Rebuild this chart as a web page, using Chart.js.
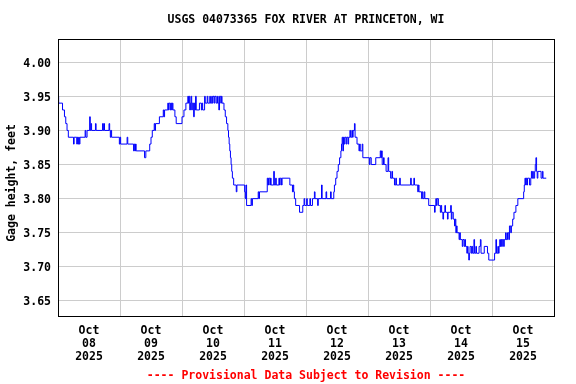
<!DOCTYPE html>
<html>
<head>
<meta charset="utf-8">
<script src="https://cdn.jsdelivr.net/npm/chart.js@4"></script>
<style>
  html, body { margin: 0; padding: 0; background: #fff; }
</style>
</head>
<body>
<canvas id="gage" width="576" height="384"></canvas>
<script>
const titleText = 'USGS 04073365 FOX RIVER AT PRINCETON, WI'
const footText = '---- Provisional Data Subject to Revision ----'
const yTitle = 'Gage height, feet'

// one label per day, drawn at noon
const dayLabels = [
  ['Oct', '08', '2025'], ['Oct', '09', '2025'], ['Oct', '10', '2025'], ['Oct', '11', '2025'],
  ['Oct', '12', '2025'], ['Oct', '13', '2025'], ['Oct', '14', '2025'], ['Oct', '15', '2025']
]
const yTicks = [3.65, 3.70, 3.75, 3.80, 3.85, 3.90, 3.95, 4.00]

// hours since Oct 08 00:00, and the gage height that starts at that hour
const hours = [
  0, 0.25, 1.75, 2.5, 3.0, 3.5, 4.0, 6.0, 6.25, 7.25, 7.5, 7.75, 8.0, 8.25, 8.5,
  10.5, 10.75, 11.25, 12.25, 12.5, 12.75, 13.0, 14.5, 14.75, 17.25, 17.5, 17.75, 18.0,
  19.75, 20.0, 20.25, 20.5, 20.75, 23.75,
  24.0, 24.25, 26.75, 27.0, 29.25, 29.5, 29.75, 30.0, 30.25, 33.5, 34.0, 35.5, 36.0,
  36.5, 37.25, 37.5, 37.75, 39.25, 40.75, 41.0, 41.25, 42.5, 42.75, 43.0, 43.5, 43.75,
  44.0, 44.25, 44.5, 45.25, 45.75,
  48.0, 48.75, 49.5, 50.25, 50.5, 50.75, 51.0, 51.25, 51.5, 51.75, 52.0, 52.5, 52.75,
  53.0, 53.25, 53.5, 54.75, 55.5, 55.75, 56.0, 56.75, 57.0, 57.75, 58.0, 58.75, 59.0,
  59.5, 59.75, 60.0, 60.5, 60.75, 61.25, 61.75, 62.0, 62.25, 62.5, 63.0, 63.25, 63.5,
  64.25, 64.75, 65.25, 65.75, 66.0, 66.25, 66.5, 66.75, 67.0, 67.25, 67.5, 68.0,
  69.0, 69.25,
  72.25, 72.5, 72.75, 73.0, 74.75, 75.0, 75.25, 77.5, 77.75, 78.0, 81.0, 81.25, 81.5,
  82.0, 82.25, 82.5, 83.5, 83.75, 84.25, 84.5, 85.5, 85.75, 86.0, 86.5, 86.75, 89.75,
  90.75, 91.0, 91.25, 91.5, 92.0, 93.5, 94.75, 95.25, 95.5,
  96.25, 96.5, 97.5, 97.75, 98.5, 99.25, 99.5, 100.5, 100.75, 102.0, 102.25, 103.75,
  104.0, 105.5, 105.75, 106.75, 107.0, 107.5, 108.0, 108.5, 109.0, 109.5, 109.75,
  110.0, 110.25, 110.5, 110.75, 111.0, 111.5, 111.75, 112.25, 112.5, 113.0, 113.25,
  113.75, 114.0, 114.25, 114.75, 115.0, 115.75, 116.5, 116.75, 117.0, 117.75, 118.0,
  120.5, 120.75, 121.25, 123.0, 124.75, 125.0, 125.25, 125.5, 126.0, 126.25, 127.0,
  127.75, 128.0, 128.75, 129.25, 129.5, 130.25, 130.75, 131.0, 132.25, 132.5, 136.5,
  136.75, 137.75, 138.0, 139.25, 139.5, 139.75, 140.75, 141.0, 141.25, 141.75, 142.0,
  143.5,
  145.75, 146.0, 146.25, 146.5, 146.75, 147.25, 148.0, 148.25, 148.5, 149.0, 149.25,
  149.75, 150.0, 150.75, 151.0, 152.0, 152.25, 152.5, 153.0, 153.5, 153.75, 154.0,
  154.25, 154.5, 155.25, 155.5, 155.75, 156.5, 156.75, 157.25, 157.5, 157.75, 158.25,
  158.5, 158.75, 159.0, 159.25, 159.5, 160.0, 160.25, 160.5, 161.0, 161.25, 161.75,
  162.0, 163.0, 163.5, 163.75, 165.0, 166.25, 166.75,
  169.0, 169.5, 169.75, 170.25, 170.5, 170.75, 171.0, 171.25, 171.5, 171.75, 172.0,
  172.5, 172.75, 173.25, 173.5, 174.0, 174.5, 174.75, 175.25, 175.5, 176.0, 176.5,
  177.25, 178.0, 180.25, 180.5, 180.75, 181.0, 181.25, 181.5, 181.75, 182.5, 183.0,
  183.25, 183.5, 183.75, 184.0, 184.5, 184.75, 185.0, 185.25, 185.5, 185.75, 187.0,
  187.5, 187.75, 189.0
]
const gage = [
  3.95, 3.94, 3.93, 3.92, 3.91, 3.90, 3.89, 3.88, 3.89, 3.88, 3.89, 3.88, 3.89, 3.88, 3.89,
  3.90, 3.89, 3.90, 3.92, 3.90, 3.91, 3.90, 3.91, 3.90, 3.91, 3.90, 3.91, 3.90,
  3.91, 3.90, 3.89, 3.90, 3.89, 3.88,
  3.89, 3.88, 3.89, 3.88, 3.87, 3.88, 3.87, 3.88, 3.87, 3.86, 3.87, 3.88, 3.89,
  3.90, 3.91, 3.90, 3.91, 3.92, 3.93, 3.92, 3.93, 3.94, 3.93, 3.94, 3.93, 3.94,
  3.93, 3.94, 3.93, 3.92, 3.91,
  3.92, 3.93, 3.94, 3.95, 3.94, 3.95, 3.93, 3.94, 3.95, 3.93, 3.94, 3.92, 3.94,
  3.93, 3.95, 3.93, 3.94, 3.93, 3.94, 3.93, 3.95, 3.94, 3.95, 3.94, 3.95, 3.94,
  3.95, 3.94, 3.95, 3.94, 3.95, 3.94, 3.95, 3.94, 3.93, 3.95, 3.94, 3.95, 3.94,
  3.93, 3.92, 3.91, 3.90, 3.89, 3.88, 3.87, 3.86, 3.85, 3.84, 3.83, 3.82,
  3.81, 3.82,
  3.81, 3.80, 3.82, 3.79, 3.80, 3.79, 3.80, 3.81, 3.80, 3.81, 3.83, 3.82, 3.83,
  3.82, 3.83, 3.82, 3.84, 3.82, 3.83, 3.82, 3.83, 3.82, 3.83, 3.82, 3.83, 3.82,
  3.81, 3.82, 3.81, 3.80, 3.79, 3.78, 3.79, 3.80, 3.79,
  3.80, 3.79, 3.80, 3.79, 3.80, 3.81, 3.80, 3.79, 3.80, 3.82, 3.80, 3.81,
  3.80, 3.81, 3.80, 3.81, 3.82, 3.83, 3.84, 3.85, 3.86, 3.87, 3.88,
  3.89, 3.87, 3.89, 3.88, 3.89, 3.88, 3.89, 3.88, 3.89, 3.90, 3.89,
  3.90, 3.89, 3.90, 3.91, 3.89, 3.88, 3.87, 3.88, 3.87, 3.88, 3.86,
  3.85, 3.86, 3.85, 3.86, 3.87, 3.86, 3.87, 3.85, 3.86, 3.85, 3.84,
  3.86, 3.84, 3.83, 3.84, 3.83, 3.82, 3.83, 3.82, 3.83, 3.82, 3.83,
  3.82, 3.83, 3.82, 3.81, 3.82, 3.81, 3.80, 3.81, 3.80, 3.81, 3.80,
  3.79,
  3.78, 3.79, 3.80, 3.79, 3.80, 3.79, 3.78, 3.79, 3.78, 3.77, 3.78,
  3.79, 3.78, 3.77, 3.78, 3.79, 3.77, 3.78, 3.77, 3.76, 3.77, 3.75,
  3.76, 3.75, 3.74, 3.75, 3.74, 3.73, 3.74, 3.73, 3.74, 3.73, 3.72,
  3.73, 3.72, 3.71, 3.72, 3.73, 3.72, 3.73, 3.72, 3.74, 3.72, 3.73,
  3.72, 3.73, 3.74, 3.72, 3.73, 3.72, 3.71,
  3.72, 3.74, 3.72, 3.73, 3.72, 3.73, 3.74, 3.73, 3.74, 3.73, 3.74,
  3.73, 3.74, 3.75, 3.74, 3.75, 3.74, 3.76, 3.75, 3.76, 3.77, 3.78,
  3.79, 3.80, 3.81, 3.82, 3.83, 3.82, 3.83, 3.82, 3.83, 3.82, 3.83,
  3.84, 3.83, 3.84, 3.83, 3.84, 3.85, 3.86, 3.84, 3.83, 3.84, 3.83,
  3.84, 3.83, 3.83
]

// tick every 12 h: grid lines at midnight, labels at noon
let halfDays = []
for (let h = 0; h <= 192; h += 12) halfDays.push(h)

Chart.defaults.font.family = '"DejaVu Sans Mono", monospace'
Chart.defaults.font.size = 11.5
Chart.defaults.font.weight = 'bold'
Chart.defaults.color = '#000'

const decor = {
  id: 'decor',
  beforeDraw(chart) {
    const ctx = chart.ctx
    ctx.save()
    ctx.fillStyle = '#fff'
    ctx.fillRect(0, 0, chart.width, chart.height)
    ctx.restore()
  },
  afterDraw(chart) {
    const { ctx, chartArea: a } = chart
    const mid = (a.left + a.right) / 2
    ctx.save()
    ctx.strokeStyle = '#000'
    ctx.lineWidth = 1
    ctx.strokeRect(a.left + 0.5, a.top + 0.5, a.right - a.left, a.bottom - a.top)
    ctx.font = 'bold 11.5px "DejaVu Sans Mono", monospace'
    ctx.textAlign = 'center'
    ctx.textBaseline = 'middle'
    ctx.fillStyle = '#000'
    ctx.fillText(titleText, mid, 20)
    // axis title, a little below the middle of the plot as in the original
    ctx.save()
    ctx.translate(12, 183)
    ctx.rotate(-Math.PI / 2)
    ctx.fillText(yTitle, 0, 0)
    ctx.restore()
    ctx.fillStyle = '#ff0000'
    ctx.fillText(footText, mid, 376)
    ctx.restore()
  }
}

new Chart(document.getElementById('gage'), {
  type: 'line',
  data: {
    datasets: [{
      data: hours.map((h, i) => ({ x: h, y: gage[i] })),
      borderColor: '#0000ff',
      borderWidth: 1,
      stepped: true,
      pointRadius: 0,
      fill: false
    }]
  },
  options: {
    responsive: false,
    animation: false,
    devicePixelRatio: 1,
    layout: { padding: { top: 39, right: 22, left: 0, bottom: 0 } },
    plugins: { legend: { display: false }, tooltip: { enabled: false } },
    scales: {
      x: {
        type: 'linear',
        min: 0,
        max: 192,
        afterBuildTicks: s => { s.ticks = halfDays.map(v => ({ value: v })) },
        afterFit: s => { s.height = 68 },
        grid: {
          color: c => (c.tick && c.tick.value % 24 === 0) ? '#cccccc' : 'rgba(0,0,0,0)',
          drawTicks: false
        },
        border: { display: false },
        ticks: {
          autoSkip: false,
          maxRotation: 0,
          padding: 9,
          font: { lineHeight: 1.11 },
          callback: v => {
            const i = (v - 12) / 24
            return Number.isInteger(i) && dayLabels[i] ? dayLabels[i] : ''
          }
        }
      },
      y: {
        min: 3.628,
        max: 4.034,
        afterBuildTicks: s => { s.ticks = yTicks.map(v => ({ value: v })) },
        afterFit: s => { s.width = 58 },
        grid: { color: '#cccccc', drawTicks: false },
        border: { display: false },
        ticks: { padding: 7, labelOffset: 1.5, callback: v => v.toFixed(2) }
      }
    }
  },
  plugins: [decor]
})
</script>
</body>
</html>
